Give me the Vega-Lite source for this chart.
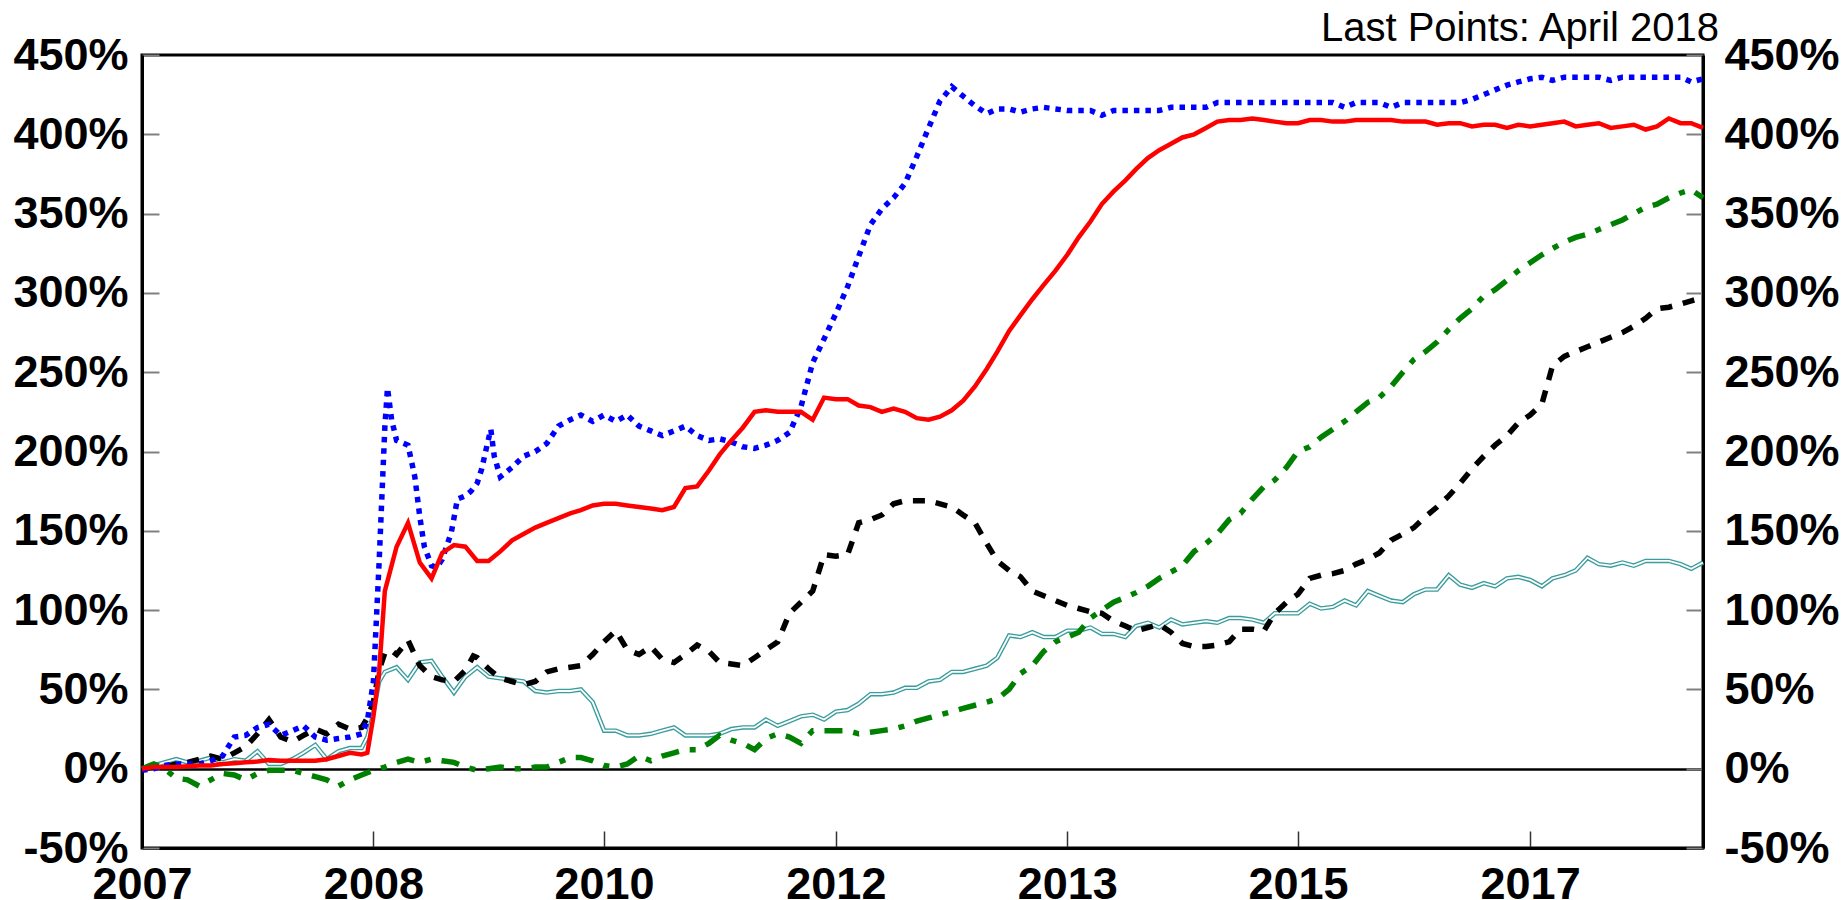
{
  "$schema": "https://vega.github.io/schema/vega-lite/v6.json",
  "width": 1561,
  "height": 793,
  "autosize": "none",
  "padding": {"left": 142, "top": 55, "right": 142, "bottom": 52},
  "background": "white",
  "config": {
    "view": {"stroke": "black", "strokeWidth": 3},
    "axis": {"grid": false}
  },
  "title": {
    "text": "Last Points: April 2018",
    "anchor": "end",
    "frame": "group",
    "orient": "top",
    "font": "Liberation Sans",
    "fontSize": 40,
    "fontWeight": "normal",
    "color": "black",
    "baseline": "alphabetic",
    "offset": 14,
    "dx": 16,
    "dy": 62
  },
  "data": {
    "values": [
      {"d": "2007-01-01", "b": -1, "r": 0, "g": 0, "k": 0, "t": 0},
      {"d": "2007-02-01", "b": 0, "r": 1, "g": 3, "k": 1, "t": 2},
      {"d": "2007-03-01", "b": 2, "r": 1, "g": 0, "k": 1, "t": 4},
      {"d": "2007-04-01", "b": 3, "r": 1, "g": -6, "k": 3, "t": 6},
      {"d": "2007-05-01", "b": 3, "r": 1.5, "g": -7, "k": 4, "t": 4},
      {"d": "2007-06-01", "b": 3, "r": 2, "g": -11, "k": 6, "t": 5},
      {"d": "2007-07-01", "b": 5, "r": 2, "g": -7, "k": 8, "t": 7},
      {"d": "2007-08-01", "b": 8, "r": 3, "g": -3, "k": 6, "t": 4},
      {"d": "2007-09-01", "b": 20, "r": 3.5, "g": -4, "k": 10, "t": 6},
      {"d": "2007-10-01", "b": 21, "r": 4, "g": -7, "k": 14, "t": 5},
      {"d": "2007-11-01", "b": 26, "r": 4.5, "g": -3, "k": 22, "t": 11},
      {"d": "2007-12-01", "b": 28, "r": 5.5, "g": -1, "k": 31, "t": 3},
      {"d": "2008-01-01", "b": 21, "r": 5, "g": -1, "k": 20, "t": 3},
      {"d": "2008-02-01", "b": 24, "r": 5, "g": -1, "k": 17, "t": 6},
      {"d": "2008-03-01", "b": 27, "r": 5, "g": -3, "k": 21, "t": 10},
      {"d": "2008-04-01", "b": 20, "r": 5, "g": -5, "k": 25, "t": 15},
      {"d": "2008-05-01", "b": 18, "r": 6, "g": -7, "k": 22, "t": 6},
      {"d": "2008-06-01", "b": 19, "r": 8, "g": -11, "k": 28, "t": 11},
      {"d": "2008-07-01", "b": 20, "r": 10, "g": -7, "k": 25, "t": 13},
      {"d": "2008-08-01", "b": 22, "r": 9, "g": -4, "k": 26, "t": 13},
      {"d": "2008-08-16", "b": 30, "r": 10, "k": 32, "t": 20},
      {"d": "2008-09-01", "b": 55, "r": 33, "g": -1, "k": 42, "t": 35},
      {"d": "2008-09-16", "b": 130, "r": 61, "k": 62, "t": 55},
      {"d": "2008-10-01", "b": 215, "r": 112, "g": 1, "k": 73, "t": 61},
      {"d": "2008-10-08", "b": 240},
      {"d": "2008-10-16", "k": 75},
      {"d": "2008-10-19", "b": 220},
      {"d": "2008-11-01", "b": 207, "r": 140, "g": 4, "k": 72, "t": 64},
      {"d": "2008-12-01", "b": 204, "r": 155, "g": 6, "k": 81, "t": 56},
      {"d": "2008-12-19", "b": 184},
      {"d": "2009-01-01", "b": 159, "r": 130, "g": 4, "k": 65, "t": 67},
      {"d": "2009-01-13", "b": 140},
      {"d": "2009-02-01", "b": 128, "r": 120, "g": 6, "k": 58, "t": 68},
      {"d": "2009-02-15", "b": 127},
      {"d": "2009-03-01", "b": 132, "r": 136, "g": 5, "k": 56, "t": 58},
      {"d": "2009-03-25", "b": 149},
      {"d": "2009-04-01", "b": 158, "r": 141, "g": 4, "k": 55, "t": 48},
      {"d": "2009-04-10", "b": 170},
      {"d": "2009-05-01", "b": 172, "r": 140, "g": 1, "k": 62, "t": 58},
      {"d": "2009-05-16", "b": 175},
      {"d": "2009-05-22", "k": 71},
      {"d": "2009-06-01", "b": 180, "r": 131, "g": -1, "k": 70, "t": 64},
      {"d": "2009-06-13", "b": 189},
      {"d": "2009-06-28", "b": 205},
      {"d": "2009-07-01", "b": 208, "r": 131, "g": 0, "k": 63, "t": 58},
      {"d": "2009-07-07", "b": 214},
      {"d": "2009-07-16", "b": 197},
      {"d": "2009-08-01", "b": 184, "r": 137, "g": 1, "k": 57, "t": 57},
      {"d": "2009-09-01", "b": 190, "r": 144, "g": 0, "k": 55, "t": 56},
      {"d": "2009-10-01", "b": 197, "r": 148, "g": 0, "k": 53, "t": 55},
      {"d": "2009-11-01", "b": 200, "r": 152, "g": 1, "k": 55, "t": 49},
      {"d": "2009-12-01", "b": 205, "r": 155, "g": 1, "k": 61, "t": 48},
      {"d": "2010-01-01", "b": 216, "r": 158, "g": 4, "k": 63, "t": 49},
      {"d": "2010-02-01", "b": 220, "r": 161, "g": 7, "k": 64, "t": 49},
      {"d": "2010-03-01", "b": 223, "r": 163, "g": 7, "k": 65, "t": 50},
      {"d": "2010-04-01", "b": 219, "r": 166, "g": 5, "k": 72, "t": 42},
      {"d": "2010-05-01", "b": 223, "r": 167, "g": 2, "k": 80, "t": 24},
      {"d": "2010-06-01", "b": 219, "r": 167, "g": 1, "k": 87, "t": 24},
      {"d": "2010-07-01", "b": 223, "r": 166, "g": 3, "k": 75, "t": 21},
      {"d": "2010-08-01", "b": 216, "r": 165, "g": 8, "k": 72, "t": 21},
      {"d": "2010-09-01", "b": 213, "r": 164, "g": 5, "k": 77, "t": 22},
      {"d": "2010-10-01", "b": 210, "r": 163, "g": 8, "k": 69, "t": 24},
      {"d": "2010-11-01", "b": 213, "r": 165, "g": 10, "k": 67, "t": 26},
      {"d": "2010-12-01", "b": 216, "r": 177, "g": 12, "k": 72, "t": 21},
      {"d": "2011-01-01", "b": 210, "r": 178, "g": 12, "k": 78, "t": 21},
      {"d": "2011-02-01", "b": 207, "r": 188, "g": 16, "k": 74, "t": 21},
      {"d": "2011-03-01", "b": 208, "r": 198, "g": 21, "k": 67, "t": 22},
      {"d": "2011-04-01", "b": 206, "r": 207, "g": 18, "k": 66, "t": 25},
      {"d": "2011-05-01", "b": 203, "r": 215, "g": 16, "k": 65, "t": 26},
      {"d": "2011-06-01", "b": 202, "r": 225, "g": 12, "k": 70, "t": 26},
      {"d": "2011-07-01", "b": 204, "r": 226, "g": 19, "k": 75, "t": 31},
      {"d": "2011-08-01", "b": 207, "r": 225, "g": 22, "k": 80, "t": 27},
      {"d": "2011-09-01", "b": 212, "r": 225, "g": 20, "k": 98, "t": 30},
      {"d": "2011-10-01", "b": 228, "r": 225, "g": 16, "k": 105, "t": 33},
      {"d": "2011-11-01", "b": 256, "r": 220, "g": 24, "k": 112, "t": 34},
      {"d": "2011-12-01", "b": 271, "r": 234, "g": 24, "k": 135, "t": 31},
      {"d": "2012-01-01", "b": 287, "r": 233, "g": 24, "k": 134, "t": 36},
      {"d": "2012-02-01", "b": 304, "r": 233, "g": 24, "k": 135, "t": 37},
      {"d": "2012-03-01", "b": 323, "r": 229, "g": 22, "k": 155, "t": 41},
      {"d": "2012-04-01", "b": 343, "r": 228, "g": 23, "k": 157, "t": 47},
      {"d": "2012-05-01", "b": 353, "r": 225, "g": 24, "k": 160, "t": 47},
      {"d": "2012-06-01", "b": 360, "r": 227, "g": 25, "k": 167, "t": 48},
      {"d": "2012-07-01", "b": 369, "r": 225, "g": 27, "k": 169, "t": 51},
      {"d": "2012-08-01", "b": 386, "r": 221, "g": 30, "k": 169, "t": 51},
      {"d": "2012-09-01", "b": 404, "r": 220, "g": 32, "k": 169, "t": 55},
      {"d": "2012-10-01", "b": 421, "r": 222, "g": 34, "k": 167, "t": 56},
      {"d": "2012-11-01", "b": 430, "r": 226, "g": 36, "k": 165, "t": 61},
      {"d": "2012-12-01", "b": 424, "r": 232, "g": 38, "k": 160, "t": 61},
      {"d": "2013-01-01", "b": 418, "r": 241, "g": 40, "k": 155, "t": 63},
      {"d": "2013-02-01", "b": 413, "r": 252, "g": 42, "k": 142, "t": 65},
      {"d": "2013-03-01", "b": 416, "r": 263, "g": 44, "k": 131, "t": 70},
      {"d": "2013-04-01", "b": 416, "r": 276, "g": 50, "k": 125, "t": 84},
      {"d": "2013-05-01", "b": 414, "r": 286, "g": 60, "k": 121, "t": 83},
      {"d": "2013-06-01", "b": 416, "r": 296, "g": 65, "k": 112, "t": 86},
      {"d": "2013-07-01", "b": 417, "r": 305, "g": 74, "k": 109, "t": 83},
      {"d": "2013-08-01", "b": 416, "r": 314, "g": 80, "k": 106, "t": 83},
      {"d": "2013-09-01", "b": 415, "r": 324, "g": 83, "k": 103, "t": 87},
      {"d": "2013-10-01", "b": 415, "r": 335, "g": 86, "k": 101, "t": 87},
      {"d": "2013-11-01", "b": 415, "r": 345, "g": 95, "k": 99, "t": 89},
      {"d": "2013-12-01", "b": 412, "r": 356, "g": 100, "k": 98, "t": 85},
      {"d": "2014-01-01", "b": 415, "r": 364, "g": 105, "k": 93, "t": 85},
      {"d": "2014-02-01", "b": 415, "r": 371, "g": 108, "k": 90, "t": 83},
      {"d": "2014-03-01", "b": 415, "r": 378, "g": 111, "k": 87, "t": 90},
      {"d": "2014-04-01", "b": 415, "r": 385, "g": 115, "k": 89, "t": 92},
      {"d": "2014-05-01", "b": 415, "r": 390, "g": 120, "k": 91, "t": 89},
      {"d": "2014-06-01", "b": 417, "r": 394, "g": 124, "k": 86, "t": 94},
      {"d": "2014-07-01", "b": 417, "r": 398, "g": 128, "k": 79, "t": 91},
      {"d": "2014-08-01", "b": 417, "r": 400, "g": 137, "k": 77, "t": 92},
      {"d": "2014-09-01", "b": 417, "r": 404, "g": 142, "k": 77, "t": 93},
      {"d": "2014-10-01", "b": 420, "r": 408, "g": 148, "k": 78, "t": 92},
      {"d": "2014-11-01", "b": 420, "r": 409, "g": 157, "k": 80, "t": 95},
      {"d": "2014-12-01", "b": 420, "r": 409, "g": 161, "k": 88, "t": 95},
      {"d": "2015-01-01", "b": 420, "r": 410, "g": 170, "k": 88, "t": 94},
      {"d": "2015-02-01", "b": 420, "r": 409, "g": 178, "k": 87, "t": 92},
      {"d": "2015-03-01", "b": 420, "r": 408, "g": 182, "k": 98, "t": 98},
      {"d": "2015-04-01", "b": 420, "r": 407, "g": 190, "k": 105, "t": 98},
      {"d": "2015-05-01", "b": 420, "r": 407, "g": 200, "k": 110, "t": 98},
      {"d": "2015-06-01", "b": 420, "r": 409, "g": 203, "k": 120, "t": 104},
      {"d": "2015-07-01", "b": 420, "r": 409, "g": 209, "k": 122, "t": 101},
      {"d": "2015-08-01", "b": 420, "r": 408, "g": 214, "k": 123, "t": 102},
      {"d": "2015-09-01", "b": 417, "r": 408, "g": 219, "k": 125, "t": 106},
      {"d": "2015-10-01", "b": 420, "r": 409, "g": 225, "k": 129, "t": 103},
      {"d": "2015-11-01", "b": 420, "r": 409, "g": 231, "k": 132, "t": 112},
      {"d": "2015-12-01", "b": 420, "r": 409, "g": 234, "k": 136, "t": 109},
      {"d": "2016-01-01", "b": 417, "r": 409, "g": 241, "k": 144, "t": 106},
      {"d": "2016-02-01", "b": 420, "r": 408, "g": 250, "k": 148, "t": 105},
      {"d": "2016-03-01", "b": 420, "r": 408, "g": 258, "k": 152, "t": 110},
      {"d": "2016-04-01", "b": 420, "r": 408, "g": 263, "k": 159, "t": 113},
      {"d": "2016-05-01", "b": 420, "r": 406, "g": 269, "k": 165, "t": 113},
      {"d": "2016-06-01", "b": 420, "r": 407, "g": 277, "k": 172, "t": 122},
      {"d": "2016-07-01", "b": 420, "r": 407, "g": 284, "k": 180, "t": 116},
      {"d": "2016-08-01", "b": 422, "r": 405, "g": 290, "k": 189, "t": 114},
      {"d": "2016-09-01", "b": 425, "r": 406, "g": 298, "k": 197, "t": 117},
      {"d": "2016-10-01", "b": 428, "r": 406, "g": 302, "k": 204, "t": 115},
      {"d": "2016-11-01", "b": 431, "r": 404, "g": 308, "k": 210, "t": 120},
      {"d": "2016-12-01", "b": 433, "r": 406, "g": 314, "k": 218, "t": 121},
      {"d": "2017-01-01", "b": 435, "r": 405, "g": 319, "k": 223, "t": 119},
      {"d": "2017-02-01", "b": 436, "r": 406, "g": 324, "k": 230, "t": 115},
      {"d": "2017-03-01", "b": 434, "r": 407, "g": 328, "k": 254, "t": 120},
      {"d": "2017-04-01", "b": 436, "r": 408, "g": 332, "k": 260, "t": 122},
      {"d": "2017-05-01", "b": 436, "r": 405, "g": 335, "k": 263, "t": 125},
      {"d": "2017-06-01", "b": 436, "r": 406, "g": 337, "k": 266, "t": 133},
      {"d": "2017-07-01", "b": 436, "r": 407, "g": 340, "k": 269, "t": 129},
      {"d": "2017-08-01", "b": 434, "r": 404, "g": 343, "k": 272, "t": 128},
      {"d": "2017-09-01", "b": 436, "r": 405, "g": 346, "k": 275, "t": 130},
      {"d": "2017-10-01", "b": 436, "r": 406, "g": 350, "k": 279, "t": 128},
      {"d": "2017-11-01", "b": 436, "r": 403, "g": 354, "k": 284, "t": 131},
      {"d": "2017-12-01", "b": 436, "r": 405, "g": 356, "k": 290, "t": 131},
      {"d": "2018-01-01", "b": 436, "r": 410, "g": 360, "k": 291, "t": 131},
      {"d": "2018-02-01", "b": 436, "r": 407, "g": 363, "k": 293, "t": 129},
      {"d": "2018-03-01", "b": 433, "r": 407, "g": 365, "k": 295, "t": 126},
      {"d": "2018-04-01", "b": 435, "r": 404, "g": 360, "k": 297, "t": 130}
    ]
  },
  "encoding": {
    "x": {
      "field": "d",
      "type": "temporal",
      "scale": {
        "type": "utc",
        "domain": [
          {"year": 2007, "month": 1, "date": 1, "utc": true},
          {"year": 2018, "month": 4, "date": 1, "utc": true}
        ],
        "nice": false
      },
      "axis": {
        "title": null,
        "values": [
          {"year": 2007, "month": 1, "date": 1, "utc": true},
          {"year": 2008, "month": 9, "date": 1, "utc": true},
          {"year": 2010, "month": 5, "date": 1, "utc": true},
          {"year": 2012, "month": 1, "date": 1, "utc": true},
          {"year": 2013, "month": 9, "date": 1, "utc": true},
          {"year": 2015, "month": 5, "date": 1, "utc": true},
          {"year": 2017, "month": 1, "date": 1, "utc": true}
        ],
        "labelExpr": "utcFormat(datum.value, '%Y')",
        "labelFont": "Liberation Sans",
        "labelFontSize": 45,
        "labelFontWeight": "bold",
        "labelColor": "black",
        "labelBaseline": "top",
        "labelFlush": false,
        "labelOverlap": false,
        "labelLimit": 0,
        "labelPadding": 31,
        "tickSize": -17,
        "tickColor": "#333333",
        "tickWidth": 1.5,
        "domainColor": "black",
        "domainWidth": 3,
        "grid": false
      }
    }
  },
  "layer": [
    {
      "mark": {"type": "line", "color": "#3A9C9C", "strokeWidth": 4.5, "invalid": "filter"},
      "encoding": {
        "y": {
          "field": "t",
          "type": "quantitative",
          "scale": {"domain": [-50, 450], "nice": false, "zero": false},
          "axis": {
            "orient": "left",
            "title": null,
            "values": [-50, 0, 50, 100, 150, 200, 250, 300, 350, 400, 450],
            "labelExpr": "datum.value + '%'",
            "labelFont": "Liberation Sans",
            "labelFontSize": 45,
            "labelFontWeight": "bold",
            "labelColor": "black",
            "labelFlush": false,
            "labelOverlap": false,
            "labelPadding": 31,
            "tickSize": -17,
            "tickColor": "#808080",
            "tickWidth": 2,
            "domainColor": "black",
            "domainWidth": 3,
            "grid": false
          }
        }
      }
    },
    {
      "mark": {"type": "line", "color": "white", "strokeWidth": 1.8, "invalid": "filter"},
      "encoding": {
        "y": {
          "field": "t",
          "type": "quantitative",
          "axis": {
            "orient": "left",
            "title": null,
            "values": [0],
            "grid": true,
            "gridColor": "black",
            "gridWidth": 2.5,
            "gridOpacity": 1,
            "labels": false,
            "ticks": false,
            "domain": false
          }
        }
      }
    },
    {
      "mark": {"type": "line", "color": "black", "strokeWidth": 5.5, "strokeDash": [12, 11], "invalid": "filter"},
      "encoding": {
        "y": {"field": "k", "type": "quantitative", "axis": null}
      }
    },
    {
      "mark": {"type": "line", "color": "#008000", "strokeWidth": 5.5, "strokeDash": [18, 11, 6, 11], "invalid": "filter"},
      "encoding": {
        "y": {"field": "g", "type": "quantitative", "axis": null}
      }
    },
    {
      "mark": {"type": "line", "color": "#0000FF", "strokeWidth": 5.5, "strokeDash": [5.5, 6], "invalid": "filter"},
      "encoding": {
        "y": {"field": "b", "type": "quantitative", "axis": null}
      }
    },
    {
      "mark": {"type": "line", "color": "#FF0000", "strokeWidth": 4.5, "invalid": "filter"},
      "encoding": {
        "y": {
          "field": "r",
          "type": "quantitative",
          "axis": {
            "orient": "right",
            "title": null,
            "values": [-50, 0, 50, 100, 150, 200, 250, 300, 350, 400, 450],
            "labelExpr": "datum.value + '%'",
            "labelFont": "Liberation Sans",
            "labelFontSize": 45,
            "labelFontWeight": "bold",
            "labelColor": "black",
            "labelFlush": false,
            "labelOverlap": false,
            "labelPadding": 38,
            "tickSize": -17,
            "tickColor": "#808080",
            "tickWidth": 2,
            "domainColor": "black",
            "domainWidth": 3,
            "grid": false
          }
        }
      }
    }
  ],
  "resolve": {"axis": {"y": "independent"}}
}
